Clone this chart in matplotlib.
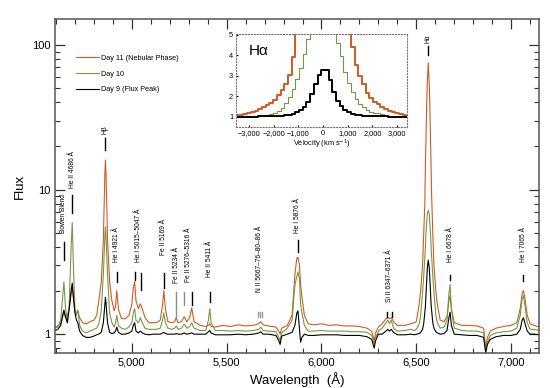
import numpy as np
import matplotlib
matplotlib.use("Agg")
import matplotlib.pyplot as plt
from matplotlib.ticker import FixedLocator, MultipleLocator, FuncFormatter, NullFormatter

plt.rcParams['font.family'] = ['Liberation Sans', 'DejaVu Sans']

# spectra, flux vs wavelength (Angstrom)
wave = [4595, 4610, 4625, 4635, 4642, 4650, 4660, 4670, 4680, 4686, 4692, 4700, 4708, 4715,
        4725, 4740, 4760, 4780, 4800, 4815, 4826, 4839, 4850, 4855, 4858, 4861, 4864, 4867,
        4872, 4883, 4895, 4907, 4914, 4921, 4929, 4945, 4965, 4985, 5000, 5008, 5015, 5022,
        5035, 5045, 5055, 5070, 5090, 5110, 5130, 5150, 5162, 5169, 5177, 5190, 5210, 5226,
        5234, 5244, 5262, 5276, 5290, 5305, 5316, 5328, 5360, 5390, 5404, 5411, 5418, 5440,
        5480, 5520, 5560, 5600, 5640, 5670, 5680, 5692, 5720, 5760, 5775, 5782, 5790, 5820,
        5845, 5860, 5870, 5876, 5884, 5890, 5897, 5910, 5930, 5960, 6000, 6040, 6080, 6120,
        6160, 6200, 6240, 6265, 6278, 6285, 6300, 6320, 6340, 6350, 6358, 6368, 6380, 6400,
        6440, 6470, 6490, 6500, 6515, 6523, 6533, 6539, 6545, 6548, 6551, 6555, 6558, 6563,
        6568, 6571, 6575, 6578, 6581, 6587, 6593, 6603, 6611, 6626, 6646, 6662, 6672, 6678,
        6685, 6700, 6740, 6780, 6820, 6855, 6866, 6875, 6890, 6920, 6960, 7000, 7030, 7048,
        7058, 7065, 7072, 7085, 7100, 7120, 7150]

flux_day11 = [1.12, 1.14, 1.18, 1.3, 1.42, 1.3, 1.35, 1.5, 1.9, 2.08, 1.8, 1.45, 1.4, 1.45,
              1.3, 1.2, 1.18, 1.22, 1.25, 1.35, 1.7, 2.3, 4.5, 9, 13, 16, 13, 9,
              4.5, 2.3, 1.7, 1.45, 1.55, 2.0, 1.5, 1.28, 1.28, 1.35, 1.6, 2.1, 2.3, 1.7,
              1.5, 1.62, 1.5, 1.3, 1.2, 1.2, 1.2, 1.25, 1.6, 2.0, 1.5, 1.22, 1.2, 1.22,
              1.3, 1.2, 1.22, 1.32, 1.22, 1.3, 1.52, 1.22, 1.15, 1.13, 1.15, 1.18, 1.13, 1.12,
              1.15, 1.13, 1.16, 1.14, 1.15, 1.18, 1.22, 1.16, 1.14, 1.12, 1.05, 1.0, 1.1, 1.15,
              1.35, 2.6, 3.35, 3.4, 3.0, 2.2, 1.8, 1.35, 1.18, 1.16, 1.18, 1.15, 1.16, 1.14,
              1.14, 1.13, 1.1, 1.05, 0.9, 1.02, 1.12, 1.18, 1.28, 1.3, 1.28, 1.3, 1.22, 1.15,
              1.15, 1.18, 1.2, 1.22, 1.6, 2.0, 3.0, 5.0, 8, 15, 22, 40, 55, 75,
              55, 40, 22, 15, 9, 5.0, 3.0, 2.0, 1.6, 1.25, 1.22, 1.32, 1.7, 1.85,
              1.5, 1.2, 1.15, 1.15, 1.14, 1.1, 0.8, 0.95, 1.05, 1.1, 1.13, 1.15, 1.2, 1.5,
              1.9, 2.0, 1.8, 1.35, 1.18, 1.15, 1.12]

flux_day10 = [1.10, 1.12, 1.25, 1.8, 2.3, 1.55, 1.2, 1.6, 4.0, 5.9, 3.0, 1.5, 1.35, 1.47,
              1.15, 1.05, 1.02, 1.05, 1.08, 1.1, 1.18, 1.45, 2.6, 3.8, 4.8, 5.5, 4.8, 3.8,
              2.6, 1.4, 1.2, 1.12, 1.2, 1.35, 1.15, 1.1, 1.08, 1.12, 1.2, 1.4, 1.5, 1.25,
              1.2, 1.3, 1.2, 1.1, 1.08, 1.08, 1.08, 1.1, 1.25, 1.4, 1.2, 1.1, 1.08, 1.1,
              1.14, 1.08, 1.1, 1.17, 1.1, 1.13, 1.2, 1.1, 1.06, 1.06, 1.25, 1.5, 1.2, 1.06,
              1.06, 1.05, 1.06, 1.05, 1.06, 1.08, 1.12, 1.06, 1.05, 1.04, 0.95, 0.9, 1.02, 1.1,
              1.25, 2.2, 2.5, 2.7, 2.4, 1.6, 1.4, 1.15, 1.05, 1.05, 1.06, 1.05, 1.05, 1.05,
              1.04, 1.04, 1.03, 0.98, 0.86, 0.95, 1.05, 1.1, 1.2, 1.25, 1.18, 1.25, 1.1, 1.05,
              1.06, 1.08, 1.06, 1.08, 1.17, 1.35, 1.95, 2.5, 3.4, 4.0, 5.0, 6.0, 6.8, 7.2,
              6.8, 6.0, 5.0, 4.0, 3.4, 2.5, 1.95, 1.35, 1.2, 1.1, 1.12, 1.25, 1.9, 2.2,
              1.5, 1.1, 1.06, 1.05, 1.05, 1.02, 0.78, 0.88, 0.98, 1.02, 1.04, 1.05, 1.1, 1.35,
              1.75, 1.85, 1.6, 1.2, 1.08, 1.08, 1.06]

flux_day9 = [1.06, 1.08, 1.15, 1.35, 1.47, 1.33, 1.2, 1.5, 2.0, 2.25, 1.8, 1.4, 1.25, 1.2,
             1.05, 0.98, 0.95, 0.95, 0.97, 0.99, 1.0, 1.03, 1.2, 1.45, 1.65, 1.8, 1.65, 1.45,
             1.2, 1.03, 1.01, 1.02, 1.05, 1.12, 1.03, 1.0, 1.0, 1.02, 1.05, 1.15, 1.2, 1.05,
             1.02, 1.05, 1.02, 1.0, 0.99, 1.0, 1.0, 1.0, 1.02, 1.03, 1.01, 1.0, 1.0, 1.0,
             1.01, 1.0, 1.0, 1.02, 1.0, 1.01, 1.02, 1.0, 1.0, 1.0, 1.04, 1.06, 1.02, 0.99,
             0.99, 0.99, 1.0, 0.99, 1.0, 1.02, 1.04, 1.0, 1.0, 0.98, 0.9, 0.85, 0.97, 1.0,
             1.03, 1.15, 1.4, 1.45, 1.1, 0.88, 0.95, 1.0, 0.98, 0.98, 0.99, 0.99, 0.99, 0.98,
             0.98, 0.98, 0.96, 0.92, 0.8, 0.9, 1.0, 1.0, 1.05, 1.08, 1.05, 1.08, 1.03, 0.99,
             0.99, 1.0, 0.99, 1.0, 1.01, 1.03, 1.08, 1.18, 1.4, 1.55, 1.85, 2.4, 2.85, 3.25,
             2.9, 2.5, 1.95, 1.6, 1.45, 1.2, 1.1, 1.04, 1.02, 1.0, 1.01, 1.06, 1.3, 1.42,
             1.15, 1.0, 0.99, 0.98, 0.98, 0.95, 0.74, 0.85, 0.92, 0.96, 0.98, 0.98, 1.0, 1.08,
             1.25, 1.3, 1.2, 1.05, 1.0, 1.0, 0.99]

# H-alpha profile in velocity space (km/s)
vel = [-3450, -3300, -3150, -3000, -2850, -2700, -2550, -2400, -2250, -2100, -1950, -1800,
       -1650, -1500, -1350, -1200, -1050, -900, -750, -600, -450, -300, -150, 0, 150, 300,
       450, 600, 750, 900, 1050, 1200, 1350, 1500, 1650, 1800, 1950, 2100, 2250, 2400, 2550,
       2700, 2850, 3000, 3150, 3300, 3450]
ha_day11 = [1.06, 1.1, 1.14, 1.19, 1.24, 1.3, 1.37, 1.45, 1.55, 1.67, 1.83, 2.05,
            2.3, 2.6, 3.05, 3.9, 5.5, 7, 9, 12, 20, 40, 65, 75, 70, 45,
            25, 14, 9, 7, 6, 4.4, 3.5, 3.0, 2.6, 2.15, 1.9, 1.72, 1.6, 1.48, 1.38,
            1.3, 1.24, 1.18, 1.13, 1.09, 1.05]
ha_day10 = [1.0, 1.0, 1.01, 1.01, 1.02, 1.03, 1.04, 1.06, 1.09, 1.13, 1.19, 1.28,
            1.42, 1.65, 1.95, 2.35, 2.85, 3.4, 4.05, 4.8, 5.6, 6.5, 7.1, 7.2, 7.1, 6.3,
            5.3, 4.6, 3.95, 3.2, 2.65, 2.2, 1.88, 1.62, 1.45, 1.33, 1.25, 1.2, 1.16, 1.11, 1.07,
            1.05, 1.03, 1.02, 1.01, 1.0, 1.0]
ha_day9 = [1.0, 1.0, 1.0, 1.0, 1.0, 1.0, 1.01, 1.01, 1.02, 1.02, 1.03, 1.04,
           1.05, 1.07, 1.1, 1.14, 1.21, 1.31, 1.48, 1.72, 2.1, 2.6, 3.05, 3.3, 3.3, 2.8,
           2.2, 1.78, 1.5, 1.33, 1.22, 1.15, 1.1, 1.07, 1.05, 1.04, 1.03, 1.02, 1.02, 1.01, 1.01,
           1.0, 1.0, 1.0, 1.0, 1.0, 1.0]

labels = ["Day 11 (Nebular Phase)", "Day 10", "Day 9 (Flux Peak)"]
colors = ["#cf5a24", "#6f9a48", "black"]

# line identifications: text, wavelength of text, flux at text bottom
id_text = ["Bowen Blend", "He II 4686 Å", "Hβ", "He I 4921 Å", "He I 5015–5047 Å",
           "Fe II 5169 Å", "Fe II 5234 Å", "Fe II 5276–5316 Å", "He II 5411 Å",
           "N II 5667–76–80–86 Å", "He I 5876 Å", "Si II 6347–6371 Å", "Hα",
           "He I 6678 Å", "He I 7065 Å"]
id_wave = [4642, 4686, 4861, 4921, 5033, 5169, 5235, 5300, 5411, 5674, 5876, 6360, 6563, 6678, 7065]
id_flux = [5.0, 10.2, 24.2, 3.15, 3.15, 3.52, 2.25, 2.29, 2.48, 1.95, 5.0, 1.66, 103, 3.15, 3.15]
# marker ticks: wavelength, low flux, high flux, colour
mk_wave = [4642, 4686, 4861, 4921, 5016, 5047, 5169, 5234, 5276, 5316, 5411,
           5667, 5676, 5686, 5876, 6347, 6371, 6563, 6678, 7065]
mk_lo = [3.25, 6.87, 18.8, 2.29, 2.36, 2.02, 2.08, 1.31, 1.59, 1.59, 1.66,
         1.31, 1.31, 1.31, 3.69, 1.31, 1.31, 85.3, 2.36, 2.33]
mk_hi = [4.33, 9.16, 22.7, 2.69, 2.69, 2.64, 2.64, 1.95, 1.95, 1.95, 1.95,
         1.42, 1.42, 1.42, 4.47, 1.42, 1.42, 98.4, 2.56, 2.56]
mk_col = ["k", "k", "k", "k", "k", "k", "k", "0.55", "0.55", "k", "k",
          "0.6", "0.6", "0.6", "k", "k", "k", "k", "k", "k"]

fig = plt.figure(figsize=(5.5, 3.88), dpi=100)
ax = fig.add_axes([0.1, 0.09, 0.88, 0.861])

for fl, lab, c in zip([flux_day11, flux_day10, flux_day9], labels, colors):
    ax.plot(wave, fl, color=c, lw=0.8, label=lab)

ax.set_yscale('log')
ax.set_xlim(4595, 7147)
ax.set_ylim(0.74, 151)

for t, w, f in zip(id_text, id_wave, id_flux):
    ax.text(w, f, t, rotation=90, ha='center', va='bottom', fontsize=4.8)
for w, lo, hi, c in zip(mk_wave, mk_lo, mk_hi, mk_col):
    ax.plot([w, w], [lo, hi], color=c, lw=1.0)

ax.xaxis.set_major_locator(MultipleLocator(500))
ax.xaxis.set_minor_locator(MultipleLocator(100))
ax.xaxis.set_major_formatter(FuncFormatter(lambda v, p: f"{int(v):,}"))
ax.yaxis.set_major_locator(FixedLocator([1, 10, 100]))
ax.yaxis.set_major_formatter(FuncFormatter(lambda v, p: f"{v:g}"))
ax.yaxis.set_minor_formatter(NullFormatter())
ax.tick_params(which='both', direction='in', top=True, right=True, labelsize=8, colors='#333333',
               labelcolor='black')
ax.tick_params(which='major', length=7, width=0.9)
ax.tick_params(which='minor', length=3.5, width=0.8)
for s in ax.spines.values():
    s.set_color('#555555')
    s.set_linewidth(1.1)

ax.set_xlabel("Wavelength  (Å)", fontsize=9.5, labelpad=3)
ax.set_ylabel("Flux", fontsize=9.5, labelpad=4)

ax.legend(loc='upper left', bbox_to_anchor=(0.03, 0.912), frameon=False, fontsize=5.2,
          handlelength=3.2, labelspacing=1.2, handletextpad=0.3)

# inset
ins = fig.add_axes([0.429, 0.673, 0.311, 0.240])
for fl, c, lw in zip([ha_day11, ha_day10, ha_day9], colors, [1.4, 0.8, 1.4]):
    ins.plot(vel, fl, color=c, lw=lw, drawstyle='steps-mid')
ins.set_xlim(-3530, 3400)
ins.set_ylim(0.5, 5.05)
ins.set_xticks([-3000, -2000, -1000, 0, 1000, 2000, 3000])
ins.set_yticks([1, 2, 3, 4, 5])
ins.xaxis.set_major_formatter(FuncFormatter(lambda v, p: f"{int(v):,}".replace("-", "\u2212")))
ins.tick_params(direction='in', length=1.5, labelsize=5.3, pad=2)
for s in ins.spines.values():
    s.set_linestyle(':')
    s.set_color('#777777')
    s.set_linewidth(0.8)
ins.set_xlabel("Velocity (km s$^{-1}$)", fontsize=5.3, labelpad=1)
ins.text(0.076, 0.82, "Hα", transform=ins.transAxes, fontsize=11, va='center', ha='left')

fig.savefig("out.png", dpi=100)
